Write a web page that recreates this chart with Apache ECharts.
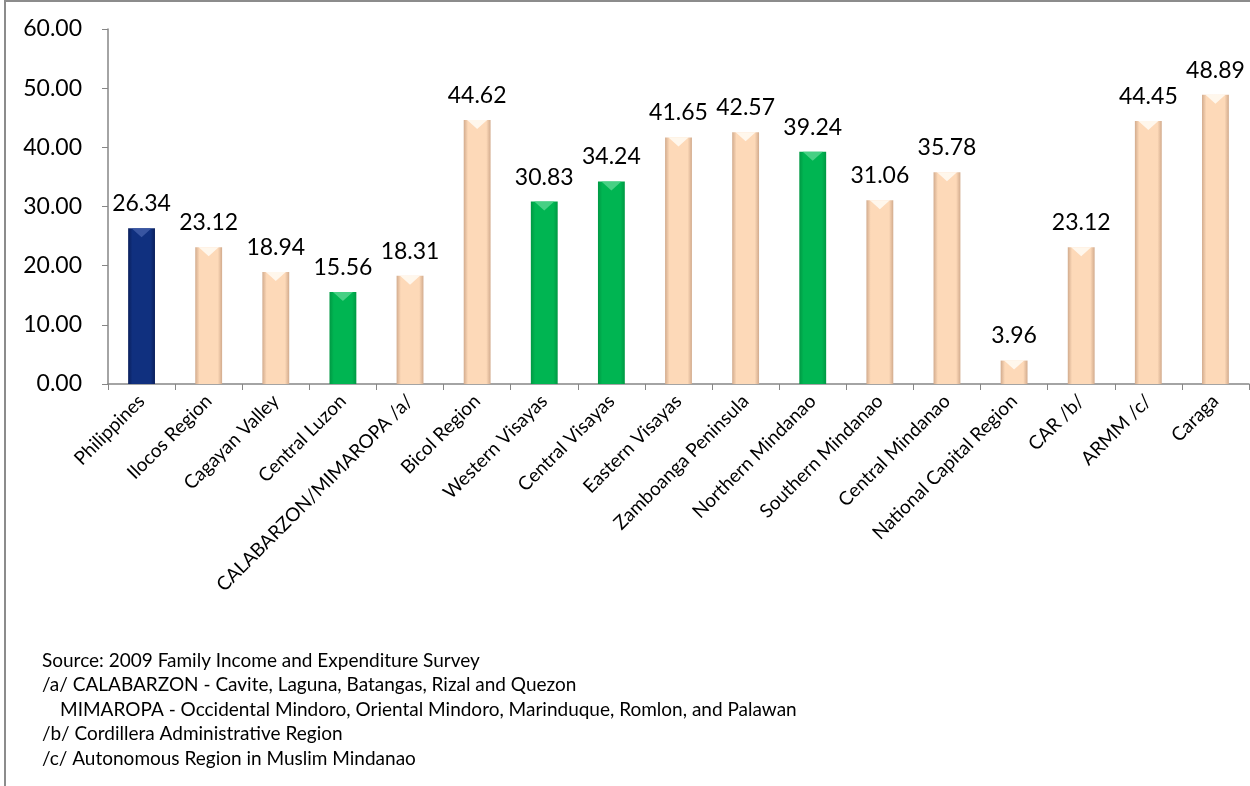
<!DOCTYPE html>
<html>
<head>
<meta charset="utf-8">
<script src="https://cdn.jsdelivr.net/npm/echarts@6/dist/echarts.min.js"></script>
<style>html,body{margin:0;padding:0;background:#fff}#c{width:1250px;height:786px}</style>
</head>
<body>
<div id="c"></div>
<script>
const categories = ["Philippines","Ilocos Region","Cagayan Valley","Central Luzon","CALABARZON/MIMAROPA /a/","Bicol Region","Western Visayas","Central Visayas","Eastern Visayas","Zamboanga Peninsula","Northern Mindanao","Southern Mindanao","Central Mindanao","National Capital Region","CAR /b/","ARMM /c/","Caraga"];
const values = [26.34,23.12,18.94,15.56,18.31,44.62,30.83,34.24,41.65,42.57,39.24,31.06,35.78,3.96,23.12,44.45,48.89];
const groups = ["nat","reg","reg","hi","reg","reg","hi","hi","reg","reg","hi","reg","reg","reg","reg","reg","reg"];
const yTicks = [0,10,20,30,40,50,60];
const footnotes = [
  "Source: 2009 Family Income and Expenditure Survey",
  "/a/ CALABARZON - Cavite, Laguna, Batangas, Rizal and Quezon",
  "     MIMAROPA - Occidental Mindoro, Oriental Mindoro, Marinduque, Romlon, and Palawan",
  "/b/ Cordillera Administrative Region",
  "/c/ Autonomous Region in Muslim Mindanao"
];

const palette = {
  nat: {side:"#0a1f5c", mid:"#10307f", hl:"#3d5aa5"},
  hi:  {side:"#009843", mid:"#00b552", hl:"#4fd38a"},
  reg: {side:"#d2ab8d", mid:"#fdd9b8", hl:"#fffaf2"}
};
function grad(c){
  return {type:'linear',x:0,y:0,x2:1,y2:0,colorStops:[
    {offset:0,color:c.side},{offset:0.16,color:c.mid},{offset:0.84,color:c.mid},{offset:1,color:c.side}]};
}
const font = "Lato, 'Open Sans', sans-serif";
const chart = echarts.init(document.getElementById('c'));
const graphics = [{type:'rect',shape:{x:5,y:1,width:1300,height:900},style:{fill:'none',stroke:'#8c8c8c',lineWidth:2},silent:true}];
footnotes.forEach((t,i)=>{
  graphics.push({type:'text',left: t.startsWith("     ") ? 60 : 42, top: 651 + i*24.5,
    style:{text:t.trim(),font:"19px "+font,fill:'#000'}});
});
chart.setOption({
  animation:false,
  grid:{left:108,top:29,right:1,bottom:402,containLabel:false},
  xAxis:{type:'category',data:categories,
    axisLine:{lineStyle:{color:'#868686',width:1.5}},
    axisTick:{show:true,alignWithLabel:false,length:6,lineStyle:{color:'#868686'}},
    axisLabel:{rotate:45,fontSize:19,fontFamily:font,color:'#000',interval:0,margin:14}},
  yAxis:{type:'value',min:0,max:60,interval:10,
    axisLine:{show:true,lineStyle:{color:'#868686',width:1.5}},
    axisTick:{show:true,length:6,lineStyle:{color:'#868686'}},
    splitLine:{show:false},
    axisLabel:{formatter:v=>v.toFixed(2),fontSize:23,fontFamily:font,color:'#000',margin:26}},
  series:[{type:'bar',barWidth:'40%',
    data:values.map((v,i)=>({value:v,itemStyle:{color:grad(palette[groups[i]])}})),
    label:{show:true,position:'top',distance:13,fontSize:23,fontFamily:font,color:'#000',formatter:p=>p.value.toFixed(2)}},
    {type:'pictorialBar',barWidth:'40%',symbol:'triangle',symbolRotate:180,symbolPosition:'end',
     symbolSize:[20,9],silent:true,z:3,
     data:values.map((v,i)=>({value:v,itemStyle:{color:palette[groups[i]].hl,opacity:0.9}}))}],
  graphic:graphics
});
</script>
</body>
</html>
